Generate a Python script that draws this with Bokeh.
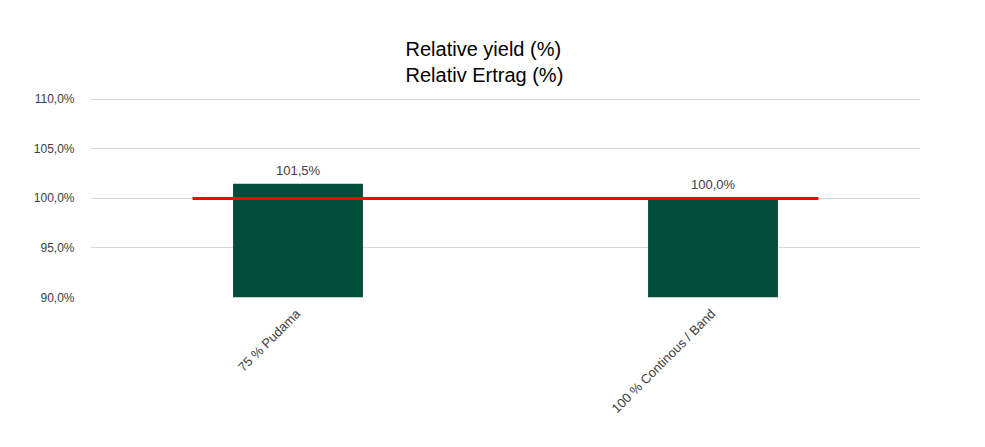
from bokeh.plotting import figure
from bokeh.models import Range1d, FixedTicker, ColumnDataSource, LabelSet
from bokeh.core.properties import value
from bokeh.embed import file_html
from bokeh.resources import INLINE
import math

categories = ["75 % Pudama", "100 % Continous / Band"]
values = [101.5, 100.0]
value_labels = ["101,5%", "100,0%"]
reference = 100.0
y_ticks = [90, 95, 100, 105, 110]
y_tick_labels = ["90,0%", "95,0%", "100,0%", "105,0%", "110,0%"]

xpos = [i + 0.5 for i in range(len(categories))]

p = figure(width=977, height=439, output_backend="svg", toolbar_location=None,
           x_range=Range1d(0, len(categories)), y_range=Range1d(90, 110.1),
           min_border_left=90, min_border_right=57, min_border_top=98, min_border_bottom=142,
           title="Relative yield (%)\nRelativ Ertrag (%)")
p.title.align = "left"
p.title.text_font = "Liberation Sans"
p.title.text_font_size = "20px"
p.title.text_font_style = "normal"
p.title.text_color = "#000000"
p.title.text_line_height = 1.2
p.title.offset = 315
p.title.standoff = 24
p.outline_line_color = None
p.background_fill_color = "white"
p.border_fill_color = "white"

src = ColumnDataSource(dict(x=xpos, top=values, lab=value_labels))
p.vbar(x="x", top="top", bottom=90, width=0.313, source=src, fill_color="#034e3b", line_color=None)

ref_x = [xpos[0] - 0.254, xpos[-1] + 0.254]
p.line(ref_x, [reference, reference], line_color="#ff0000", line_width=3)

labels = LabelSet(x="x", y="top", text="lab", source=src, text_align="center",
                  text_baseline="bottom", y_offset=6, text_font=value("Liberation Sans"),
                  text_font_size="13px", text_color="#404040")
p.add_layout(labels)

p.xgrid.grid_line_color = None
p.ygrid.grid_line_color = "#d9d9d9"
p.ygrid.grid_line_width = 1
p.ygrid.ticker = FixedTicker(ticks=y_ticks)

p.yaxis.ticker = FixedTicker(ticks=y_ticks)
p.yaxis.major_label_overrides = {t: l for t, l in zip(y_ticks, y_tick_labels)}
p.yaxis.axis_line_color = None
p.yaxis.major_tick_line_color = None
p.yaxis.minor_tick_line_color = None
p.yaxis.major_label_text_font = "Liberation Sans"
p.yaxis.major_label_text_font_size = "12px"
p.yaxis.major_label_text_color = "#404040"
p.yaxis.major_label_standoff = 10

p.xaxis.ticker = FixedTicker(ticks=xpos)
p.xaxis.major_label_overrides = {x: c for x, c in zip(xpos, categories)}
p.xaxis.axis_line_color = None
p.xaxis.major_tick_line_color = None
p.xaxis.minor_tick_line_color = None
p.xaxis.major_label_orientation = math.pi / 4
p.xaxis.major_label_text_font = "Liberation Sans"
p.xaxis.major_label_text_font_size = "13px"
p.xaxis.major_label_text_color = "#404040"
p.xaxis.major_label_standoff = 8

open("out.html", "w").write(file_html(p, INLINE))
